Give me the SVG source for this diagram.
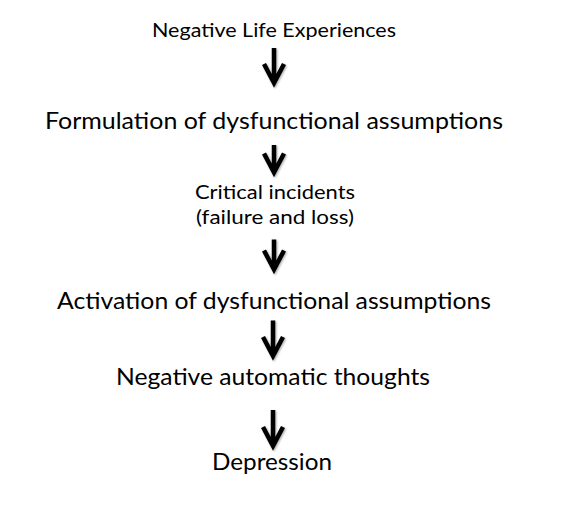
<svg xmlns="http://www.w3.org/2000/svg" width="562" height="508" viewBox="0 0 562 508">
<defs>
<style>
text{font-family:Lato,"Open Sans","Liberation Sans",sans-serif;fill:#000;text-anchor:middle}
.s{font-size:19.5px}
.l{font-size:24px}
.arr{fill:none;stroke:#000;stroke-width:4.5;stroke-linecap:butt;stroke-linejoin:miter;stroke-miterlimit:10}
</style>
<filter id="sh" x="-50%" y="-50%" width="200%" height="200%">
<feGaussianBlur in="SourceAlpha" stdDeviation="1"/>
<feOffset dx="1" dy="1" result="b"/>
<feComponentTransfer><feFuncA type="linear" slope="0.35"/></feComponentTransfer>
<feMerge><feMergeNode/><feMergeNode in="SourceGraphic"/></feMerge>
</filter>
</defs>
<rect width="562" height="508" fill="#fff"/>
<g id="connectors" filter="url(#sh)">
<path class="arr" d="M274,48 V82 M264,64 L274,83 L284,64"/>
<path class="arr" d="M274,145 V171 M264,153.5 L274,172.5 L284,153.5"/>
<path class="arr" d="M274,239.5 V268 M264,250.5 L274,269.5 L284,250.5"/>
<path class="arr" d="M273,320.5 V355 M263,337 L273,356 L283,337"/>
<path class="arr" d="M273,410 V445 M263,427 L273,446 L283,427"/>
</g>
<g id="n1"><text class="s" x="274" y="36.5" textLength="244" lengthAdjust="spacingAndGlyphs">Negative Life Experiences</text></g>
<g id="n2"><text class="l" x="274" y="128.5" textLength="458" lengthAdjust="spacingAndGlyphs">Formulation of dysfunctional assumptions</text></g>
<g id="n3"><text class="s" x="275" y="199" textLength="160" lengthAdjust="spacingAndGlyphs">Critical incidents</text><text class="s" x="275" y="224" textLength="158" lengthAdjust="spacingAndGlyphs">(failure and loss)</text></g>
<g id="n4"><text class="l" x="274" y="308.5" textLength="434" lengthAdjust="spacingAndGlyphs">Activation of dysfunctional assumptions</text></g>
<g id="n5"><text class="l" x="273" y="384.5" textLength="314" lengthAdjust="spacingAndGlyphs">Negative automatic thoughts</text></g>
<g id="n6"><text class="l" x="272" y="470" textLength="120" lengthAdjust="spacingAndGlyphs">Depression</text></g>
</svg>
